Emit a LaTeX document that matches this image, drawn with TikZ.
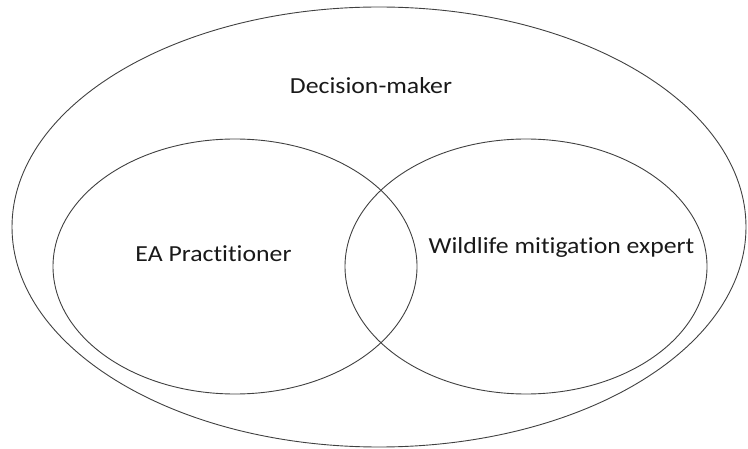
\documentclass[tikz,border=0pt]{standalone}
\usepackage{fontspec}
\setmainfont[FakeStretch=1.12, Ligatures=NoCommon]{Carlito}
\usetikzlibrary{calc}

\tikzset{
    setline/.style={line width=0.9bp, draw=black!75},
    setlabel/.style={anchor=base, inner sep=0pt, text=black!90, font=\fontsize{23bp}{27bp}\selectfont}
}

\begin{document}
\begin{tikzpicture}[x=1bp, y=-1bp]
                \useasboundingbox (0,0) rectangle (748,449);

                % outer set and the two inner sets
                \draw[setline] (379,227) ellipse(367 and 220);
                \draw[setline] (235,266.5) ellipse(182 and 127.5);
                \draw[setline] (526,266.5) ellipse(181 and 127.5);

                \node[setlabel] (dm) at (371,94) {Decision-maker};
                \node[setlabel] (ea) at (213.5,262) {EA Practitioner};
                \node[setlabel] (wm) at (561.5,254) {Wildlife mitigation expert};
            \end{tikzpicture}
\end{document}
